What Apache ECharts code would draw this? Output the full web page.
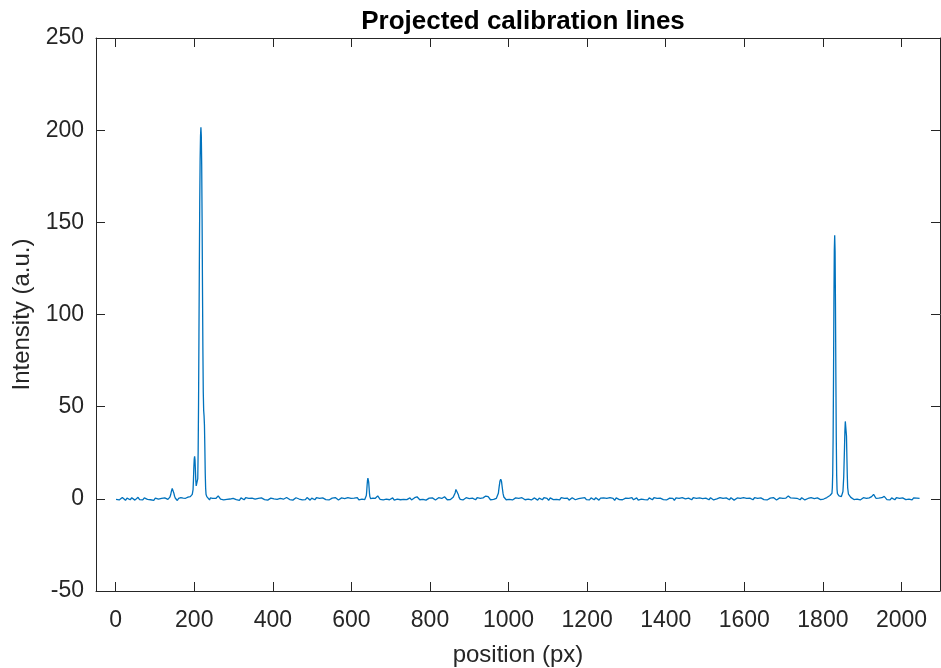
<!DOCTYPE html>
<html>
<head>
<meta charset="utf-8">
<title>Projected calibration lines</title>
<script src="https://cdn.jsdelivr.net/npm/echarts@6/dist/echarts.min.js"></script>
<style>
  html, body { margin: 0; padding: 0; background: #fff; }
  #chart { width: 941px; height: 668px; }
</style>
</head>
<body>
<div id="chart"></div>
<script>
// Projected intensity along the detector row, as [position (px), intensity (a.u.)]
const leftWing = [
  [1,-0.3],[5,0.5],[9,-0.6],[13,0.1],[17,0.7],[21,-0.2],[25,-0.8],[29,0.4],[33,0.2],[37,-0.5],
  [41,0.6],[45,-0.1],[49,-0.7],[53,0.3],[57,0.8],[61,-0.4],[65,0.0],[69,-0.6],[73,0.5],[77,0.2],
  [81,-0.3],[85,0.7],[89,-0.5],[93,0.1],[97,-0.8],[101,0.4],[105,0.6],[109,-0.2],[113,-0.4],
  [117,0.3],[121,-0.6],[125,0.5],[129,0.1],[133,-0.3],[136,0.4],[138,0.9],[140,2.2],[142,4.2],
  [144,5.6],[146,5.2],[148,3.2],[150,1.4],[152,0.3],[154,-0.6],[157,-0.9],[160,0.2],[163,-0.5],
  [166,0.6],[169,-0.2],[172,0.4],[175,-0.6],[178,0.3],[181,0.7],[184,0.9],[187,1.4],[190,1.2],[192,1.8]
];
const mainLines = [
  [195,2.4],[196,3.0],[197,5],[198,10],[199,17],[200,21.5],[201,23],[202,21],[203,15.5],[204,10],
  [205,7],[206,6],[207,5.7],[208,6.5],[209,11],[210,26],[211,52],[212,88],[213,126],[214,160],
  [215,184],[216,197],[217,201.5],[218,197],[219,181],[220,152],[221,115],[222,82],[223,58],
  [224,48],[225,45],[226,40],[227,28],[228,14],[229,6],[230,2.5],[232,1.2],[235,0.4],
  [239,-0.6],[241,0.5],[243,-0.2],[247,0.3],[251,-0.5],[255,0.2],[258,0.6],[261,1.6],[264,0.9],[267,-0.2]
];
const midRange = [
  [271,0.4],[275,-0.6],[279,0.2],[283,-0.3],[287,0.7],[291,-0.1],[295,-0.7],[299,0.3],[303,0.6],
  [307,-0.4],[311,0.1],[315,-0.8],[319,0.5],[323,0.0],[327,-0.5],[331,0.6],[335,-0.3],[339,0.2],
  [343,-0.7],[347,0.4],[351,0.7],[355,-0.2],[359,-0.5],[363,0.3],[367,-0.6],[371,0.5],[375,0.1],
  [379,-0.4],[383,0.6],[387,-0.7],[391,0.2],[395,0.4],[399,-0.5],[403,0.0],[407,0.6],[411,-0.3],
  [415,-0.8],[419,0.3],[423,0.5],[427,-0.2],[431,-0.6],[435,0.7],[439,0.1],[443,-0.4],[447,0.4],
  [451,-0.7],[455,0.2],[459,0.6],[463,-0.3],[467,-0.1],[471,0.5],[475,-0.6],[479,0.3],[483,-0.4],
  [487,0.7],[491,-0.2],[495,-0.7],[499,0.4],[503,0.1],[507,-0.5],[511,0.6],[515,-0.3],[519,0.2],
  [523,-0.8],[527,0.5],[531,0.3],[535,-0.4],[539,0.6],[543,-0.6],[547,0.0],[551,0.4],[555,-0.5],
  [559,0.7],[563,-0.2],[567,-0.6],[571,0.3],[575,0.5],[579,-0.4],[583,0.1],[587,-0.7],[591,0.6],
  [595,-0.1],[599,0.3],[603,-0.5],[607,0.4],[611,-0.3],[615,0.6],[619,-0.6],[623,0.2],[627,-0.2],
  [631,0.5],[634,-0.4],[637,0.6],[638,1.8],[639,4.2],[640,7.5],[641,10],[642,11.3],[643,11],
  [644,9],[645,6],[646,3],[647,1.2],[649,0.1],[652,-0.5],[655,0.4],[658,-0.2],[661,0.3],[664,0.8],
  [667,1.6],[670,1.0],[673,-0.3],[677,0.4],[681,-0.6],[685,0.3],[689,-0.2],[693,0.6],[697,-0.5],
  [701,0.1],[705,0.5],[709,-0.7],[713,0.3],[717,-0.1],[721,0.6],[725,-0.5],[729,0.2],[733,-0.3],
  [737,0.7],[741,-0.4],[745,0.0],[749,0.5],[753,-0.6],[757,0.3],[761,0.6],[764,1.0],[767,1.1],
  [770,0.2],[774,-0.5],[778,0.4],[782,-0.3],[786,0.6],[790,-0.7],[794,0.2],[798,0.4],[802,-0.4],
  [806,0.5],[810,-0.2],[814,-0.6],[818,0.3],[822,0.6],[826,-0.4],[830,0.2],[834,0.8],[837,1.1],
  [840,0.4],[844,-0.5],[848,0.3],[852,-0.4],[856,0.4],[859,0.8],[862,1.5],[864,3.2],[866,5.1],
  [868,5.7],[870,4.6],[872,2.4],[874,0.8],[877,-0.3],[880,0.5],[884,-0.6],[888,0.2],[892,0.6],
  [896,-0.4],[900,0.1],[904,-0.7],[908,0.4],[912,0.2],[916,-0.5],[920,0.6],[924,-0.3],[928,0.3],
  [932,-0.2],[935,0.5],[938,0.7],[942,1.5],[945,2.0],[948,1.2],[951,0.3],[954,-0.5],[958,0.4],
  [962,-0.3],[966,0.5],[969,0.3],[972,1.2],[974,3],[976,6.5],[978,9.5],[980,10.6],[982,9.5],
  [984,6],[986,2.8],[988,1.0],[991,0.1],[994,-0.5],[998,0.4],[1002,-0.3],[1006,0.6],[1010,-0.6],
  [1014,0.1],[1018,0.5],[1022,-0.4],[1026,0.3],[1030,-0.7],[1034,0.6],[1038,0.0],[1042,-0.5],
  [1046,0.4],[1050,-0.2],[1054,0.7],[1058,-0.6],[1062,0.2],[1066,0.5],[1070,-0.3],[1074,-0.7],
  [1078,0.4],[1082,0.1],[1086,-0.5],[1090,0.6],[1094,-0.2],[1098,0.3],[1102,-0.8],[1106,0.5],
  [1110,0.2],[1114,-0.4],[1118,0.6],[1122,-0.3],[1126,0.0],[1130,-0.6],[1134,0.7],[1138,-0.1],
  [1142,0.3],[1146,-0.5],[1150,0.4],[1154,-0.7],[1158,0.2],[1162,0.6],[1166,-0.3],[1170,-0.5],
  [1174,0.5],[1178,0.1],[1182,-0.6],[1186,0.4],[1190,-0.2],[1194,0.7],[1198,-0.4],[1202,0.2],
  [1206,-0.6],[1210,0.5],[1214,0.3],[1218,-0.5],[1222,0.6],[1226,-0.1],[1230,-0.7],[1234,0.4],
  [1238,0.0],[1242,0.5],[1246,-0.4],[1250,0.2],[1254,-0.6],[1258,0.6],[1262,-0.3],[1266,0.3],
  [1270,-0.8],[1274,0.5],[1278,0.1],[1282,-0.4],[1286,0.6],[1290,-0.5],[1294,0.2],[1298,0.4],
  [1302,-0.6],[1306,0.3],[1310,-0.2],[1314,0.7],[1318,-0.5],[1322,0.1],[1326,0.5],[1330,-0.7],
  [1334,0.3],[1338,-0.1],[1342,0.6],[1346,-0.4],[1350,0.2],[1354,-0.6],[1358,0.5],[1362,0.0],
  [1366,-0.5],[1370,0.6],[1374,-0.3],[1378,0.3],[1382,-0.7],[1386,0.4],[1390,0.2],[1394,-0.4],
  [1398,0.6],[1402,-0.6],[1406,0.1],[1410,0.4],[1414,-0.5],[1418,0.3],[1422,-0.8],[1426,0.5],
  [1430,-0.1],[1434,0.2],[1438,-0.6],[1442,0.6],[1446,-0.3],[1450,0.0],[1454,-0.7],[1458,0.4],
  [1462,0.2],[1466,-0.5],[1470,0.6],[1474,-0.4],[1478,0.3],[1482,-0.6],[1486,0.5],[1490,-0.2],
  [1494,0.1],[1498,-0.7],[1502,0.4],[1506,0.3],[1510,-0.5],[1514,0.6],[1518,-0.2],[1522,-0.6],
  [1526,0.4],[1530,0.0],[1534,-0.4],[1538,0.7],[1542,-0.3],[1546,0.2],[1550,-0.6],[1554,0.5],
  [1558,0.1],[1562,-0.5],[1566,0.6],[1570,-0.1],[1574,-0.7],[1578,0.3],[1582,0.5],[1586,-0.4],
  [1590,0.2],[1594,-0.6],[1598,0.6],[1602,-0.2],[1606,0.3],[1610,-0.7],[1614,0.4],[1618,0.0],
  [1622,-0.5],[1626,0.6],[1630,-0.3],[1634,0.2],[1638,-0.6],[1642,0.5],[1646,0.3],[1650,-0.4],
  [1654,0.6],[1658,-0.6],[1662,0.1],[1666,0.4],[1670,-0.5],[1674,0.7],[1678,-0.2],[1682,-0.6],
  [1686,0.3],[1690,0.5],[1694,-0.4],[1698,0.2],[1702,0.6],[1706,0.4],[1709,1.2],[1712,1.6],
  [1715,1.3],[1718,0.5],[1722,-0.3],[1726,0.4],[1730,-0.6],[1734,0.3],[1738,0.1],[1742,-0.5],
  [1746,0.6],[1750,-0.2],[1754,-0.6],[1758,0.4],[1762,0.2],[1766,-0.4],[1770,0.6],[1774,-0.3],
  [1778,0.1],[1782,-0.6],[1786,0.5],[1790,0.2],[1794,-0.4],[1798,0.6],[1802,-0.1],[1806,0.4],[1810,0.7]
];
const rightLines = [
  [1814,1.2],[1818,1.8],[1821,2.3],[1823,3],[1824,6],[1825,14],[1826,33],[1827,66],[1828,106],
  [1829,135],[1830,143],[1831,134],[1832,104],[1833,66],[1834,33],[1835,13],[1836,5],[1837,2.8],
  [1839,2.4],[1841,1.6],[1843,1.0],[1845,1.1],[1847,1.2],[1849,1.8],[1851,4],[1853,12],[1855,28],
  [1856,37],[1857,42],[1858,43],[1859,41],[1860,34],[1861,23],[1862,13],[1863,6],[1865,2.5],
  [1868,1.6],[1871,0.8]
];
const rightWing = [
  [1875,0.2],[1879,-0.4],[1883,0.5],[1887,-0.1],[1891,0.4],[1895,-0.6],[1899,0.3],[1903,0.6],
  [1907,-0.3],[1911,0.2],[1915,-0.4],[1918,0.5],[1921,0.6],[1924,1.2],[1927,2.0],[1929,2.4],
  [1932,1.5],[1935,0.3],[1938,-0.5],[1942,0.4],[1946,-0.2],[1950,0.6],[1953,1.2],[1956,1.3],
  [1959,0.5],[1963,-0.4],[1967,0.3],[1971,-0.6],[1975,0.5],[1979,0.1],[1983,-0.5],[1987,0.6],
  [1991,-0.3],[1995,0.2],[1999,-0.6],[2003,0.5],[2007,0.0],[2011,-0.4],[2015,0.6],[2019,-0.2],
  [2023,0.3],[2027,-0.6],[2031,0.5],[2035,-0.1],[2039,0.4],[2043,-0.4],[2046,0.2]
];

const xTicks = [0, 200, 400, 600, 800, 1000, 1200, 1400, 1600, 1800, 2000];
const yTicks = [-50, 0, 50, 100, 150, 200, 250];

const trace = [].concat(leftWing, mainLines, midRange, rightLines, rightWing);

const FONT = '"Liberation Sans", Arial, Helvetica, sans-serif';
const AXIS = '#262626';

function xAxisDef(pos, withLabels) {
  return {
    type: 'value', position: pos, min: -50, max: 2098,
    axisLine: { show: true, onZero: false, lineStyle: { color: AXIS, width: 1 } },
    axisTick: { show: true, inside: true, length: 9, customValues: xTicks, lineStyle: { color: AXIS, width: 1 } },
    axisLabel: {
      show: withLabels, customValues: xTicks, color: AXIS, fontSize: 23, margin: 18, fontFamily: FONT,
      formatter: (v) => String(v)
    },
    splitLine: { show: false },
    name: withLabels ? 'position (px)' : '',
    nameLocation: 'middle', nameGap: 52,
    nameTextStyle: { color: AXIS, fontSize: 24, fontFamily: FONT }
  };
}
function yAxisDef(pos, withLabels) {
  return {
    type: 'value', position: pos, min: yTicks[0], max: yTicks[yTicks.length - 1], interval: 50,
    axisLine: { show: true, onZero: false, lineStyle: { color: AXIS, width: 1 } },
    axisTick: { show: true, inside: true, length: 9, lineStyle: { color: AXIS, width: 1 } },
    axisLabel: { show: withLabels, color: AXIS, fontSize: 23, margin: 12, fontFamily: FONT },
    splitLine: { show: false },
    name: withLabels ? 'Intensity (a.u.)' : '',
    nameLocation: 'middle', nameGap: 62,
    nameTextStyle: { color: AXIS, fontSize: 24, fontFamily: FONT }
  };
}

const chart = echarts.init(document.getElementById('chart'), null, { renderer: 'canvas' });
chart.setOption({
  animation: false,
  backgroundColor: '#ffffff',
  title: {
    text: 'Projected calibration lines',
    left: 518, top: 4, textAlign: 'center',
    textStyle: { color: '#000', fontSize: 26, fontWeight: 'bold', fontFamily: FONT }
  },
  grid: { left: 96, right: 1, top: 38, bottom: 77, containLabel: false, outerBoundsMode: 'none' },
  xAxis: [xAxisDef('bottom', true), xAxisDef('top', false)],
  yAxis: [yAxisDef('left', true), yAxisDef('right', false)],
  series: [{
    type: 'line', xAxisIndex: 0, yAxisIndex: 0,
    data: trace, showSymbol: false, symbol: 'none', sampling: false,
    lineStyle: { color: '#0072BD', width: 1.3 },
    emphasis: { disabled: true }
  }]
});
</script>
</body>
</html>
